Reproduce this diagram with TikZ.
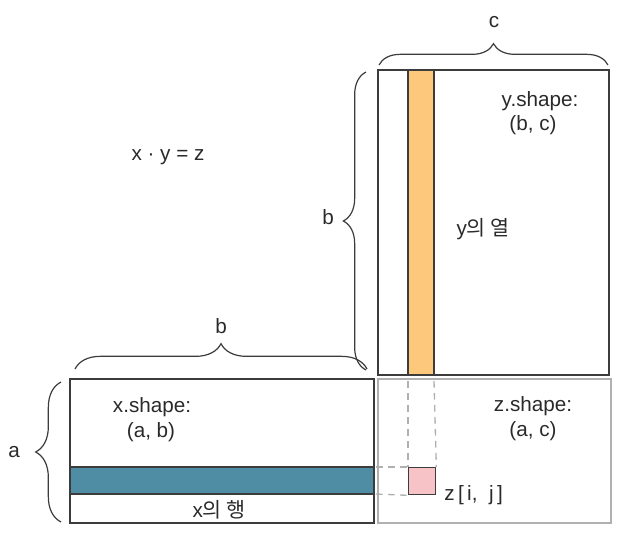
\documentclass[tikz,border=0pt]{standalone}
\usepackage{fontspec}
\setmainfont{Liberation Sans}
\newfontfamily\kr{Noto Sans CJK KR}
\usetikzlibrary{decorations.pathreplacing}
\definecolor{edge}{HTML}{3C3C3C}
\definecolor{zedge}{HTML}{B0B0B0}
\definecolor{orangecol}{HTML}{FDC87C}
\definecolor{tealrow}{HTML}{4E8DA3}
\definecolor{pinkcell}{HTML}{F7C3C6}
\definecolor{txt}{HTML}{2A2A2A}
\tikzset{
  mat/.style={draw=edge, line width=1.1pt},
  zmat/.style={draw=zedge, line width=1.1pt},
  guide/.style={draw=zedge, dashed, line width=1pt, dash pattern=on 5pt off 4pt},
  lbl/.style={text=txt, font=\fontsize{15.5}{18}\selectfont, inner sep=0pt},
  brc/.style={draw=edge, line width=0.9pt, decorate, decoration={brace, amplitude=#1}},
}
\begin{document}
\begin{tikzpicture}[x=0.75pt, y=-0.75pt]
\useasboundingbox (0,0) rectangle (624,538);
% y matrix
\draw[mat] (378,70) rectangle (609,375);
\draw[mat, fill=orangecol] (408,70) rectangle (434,375);
\node[lbl] (yshape) at (540,101) {y.shape:};
\node[lbl] (yshp) at (533,125) {(b, c)};
\node[lbl] (ycol) at (483,229) {y{\kr 의 열}};
% x matrix
\draw[mat] (70,379) rectangle (374,523);
\draw[mat, fill=tealrow] (70,467) rectangle (374,494);
\node[lbl] (xshape) at (152,407) {x.shape:};
\node[lbl] (xshp) at (151,432) {(a, b)};
\node[lbl] (xrow) at (219,510) {x{\kr 의 행}};
% z matrix
\draw[zmat] (378,379) rectangle (611,523);
\node[lbl] (zshape) at (533,406) {z.shape:};
\node[lbl] (zshp) at (533,431) {(a, c)};
\node[draw=edge, line width=1pt, fill=pinkcell, minimum width=20.25pt, minimum height=20.25pt, inner sep=0pt, anchor=north west] (cell) at (408,467) {};
\node[lbl, anchor=west] (zij) at (444,495) {z\,[\,i,\;\;j\,]};
% guides
\coordinate (gv1) at (408,381);
\coordinate (gv2) at (434,381);
\coordinate (gh1) at (376,467);
\coordinate (gh2) at (376,494);
\draw[guide] (gv1) -- (cell.north west);
\draw[guide] (gv2) -- (cell.north east);
\draw[guide] (gh1) -- (cell.north west);
\draw[guide] (gh2) -- (cell.south west);
% equation
\node[lbl] (eq) at (168,157) {x · y = z};
% braces
\coordinate (cbL) at (379,65);
\coordinate (cbR) at (608,65);
\draw[brc=16pt] (cbL) -- (cbR);
\node[lbl] (clab) at (494,22) {c};
\coordinate (ybB) at (366,370);
\coordinate (ybT) at (366,72);
\draw[brc=17pt] (ybB) -- (ybT);
\node[lbl] (yblab) at (328,217) {b};
\coordinate (xbL) at (75,369);
\coordinate (xbR) at (367,369);
\draw[brc=19pt] (xbL) -- (xbR);
\node[lbl] (xblab) at (221,326) {b};
\coordinate (abB) at (61,522);
\coordinate (abT) at (61,382);
\draw[brc=19pt] (abB) -- (abT);
\node[lbl] (alab) at (14,452) {a};
\end{tikzpicture}
\end{document}
